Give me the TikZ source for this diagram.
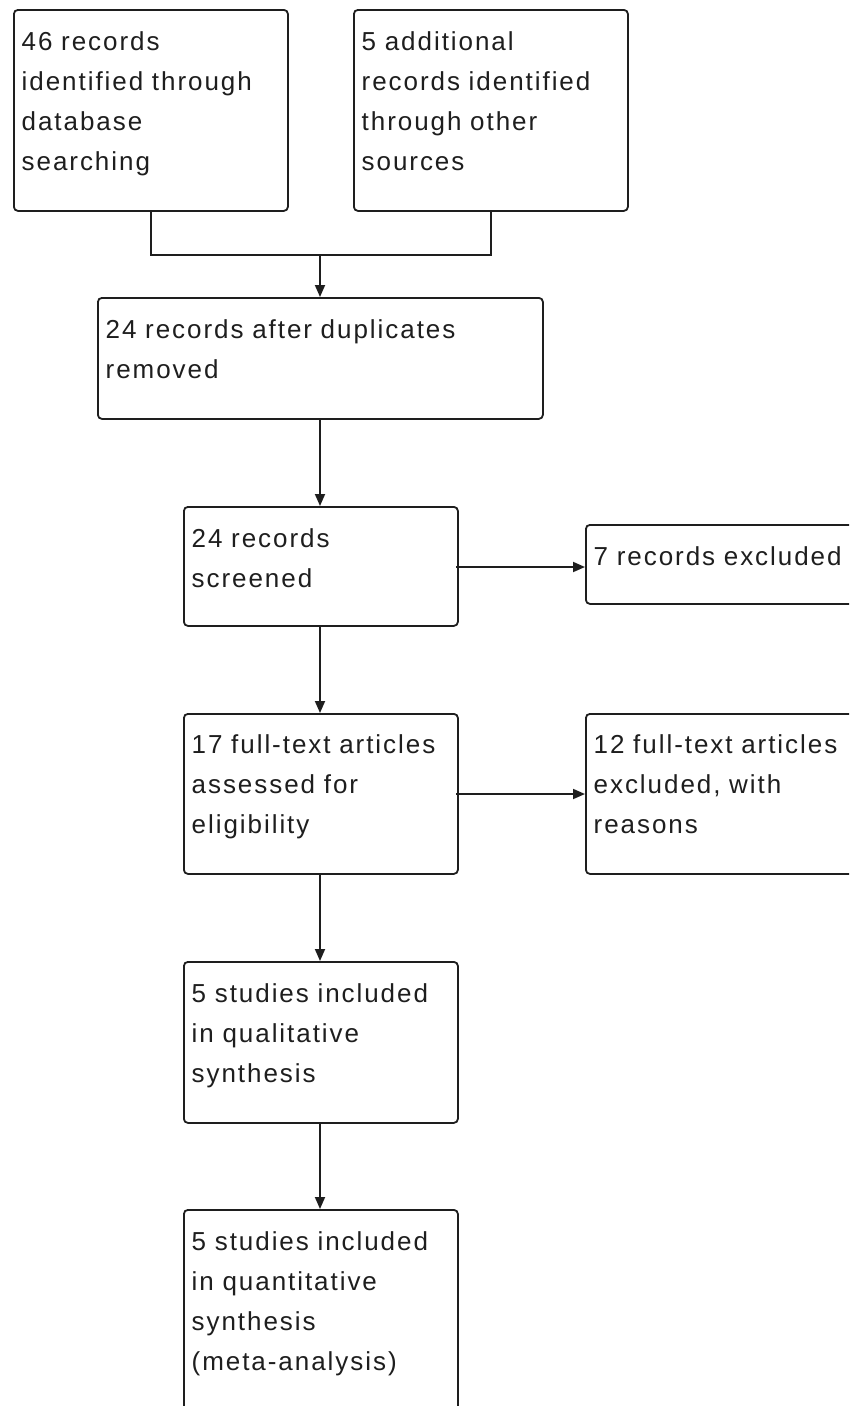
\documentclass[tikz,border=0pt]{standalone}
\usepackage{fontspec}
\setmainfont[LetterSpace=7.5]{Liberation Sans}
\usetikzlibrary{arrows.meta,calc}
\definecolor{ink}{HTML}{1E1E1E}
\tikzset{
  box/.style={draw=ink, line width=1.8pt, rounded corners=4pt, rectangle, inner sep=0pt, anchor=north west, fill=white},
  lbl/.style={anchor=base west, inner sep=0pt, text width=440pt, align=left, text=ink,
              font=\fontsize{26}{40}\selectfont},
  conn/.style={draw=ink, line width=1.8pt},
  arr/.style={conn, -{Triangle[length=12pt,width=10pt]}}
}
\begin{document}
\begin{tikzpicture}[x=1pt,y=-1pt]
\useasboundingbox (0,0) rectangle (849,1406);
\clip (0,0) rectangle (849,1406);
% boxes
\node[box, minimum width=274pt, minimum height=201pt] (a) at (13,9) {};
\node[box, minimum width=274pt, minimum height=201pt] (b) at (353,9) {};
\node[box, minimum width=445pt, minimum height=121pt] (c) at (97,297) {};
\node[box, minimum width=274pt, minimum height=119pt] (d) at (183,506) {};
\node[box, minimum width=320pt, minimum height=79pt]  (e) at (585,524) {};
\node[box, minimum width=274pt, minimum height=160pt] (f) at (183,713) {};
\node[box, minimum width=320pt, minimum height=160pt] (g) at (585,713) {};
\node[box, minimum width=274pt, minimum height=161pt] (h) at (183,961) {};
\node[box, minimum width=274pt, minimum height=260pt] (i) at (183,1209) {};
% texts
\node[lbl] (ta) at (21.5,50) {46 records\\identified through\\database\\searching};
\node[lbl] (tb) at (361.5,50) {5 additional\\records identified\\through other\\sources};
\node[lbl] (tc) at (105.5,338) {24 records after duplicates\\removed};
\node[lbl] (td) at (191.5,547) {24 records\\screened};
\node[lbl] (te) at (593.5,565) {7 records excluded};
\node[lbl] (tf) at (191.5,753) {17 full-text articles\\assessed for\\eligibility};
\node[lbl] (tg) at (593.5,753) {12 full-text articles\\excluded, with\\reasons};
\node[lbl] (th) at (191.5,1002) {5 studies included\\in qualitative\\synthesis};
\node[lbl] (ti) at (191.5,1250) {5 studies included\\in quantitative\\synthesis\\(meta-analysis)};
% connectors
\coordinate (j) at (320,255);
\draw[conn] (a.south) |- (j) -| (b.south);
\draw[arr] (j) -- (j |- c.north);
\draw[arr] (c.south -| j) -- (j |- d.north);
\coordinate (de) at (456,567);
\draw[arr] (de) -- (de -| e.west);
\draw[arr] (d.south -| j) -- (j |- f.north);
\coordinate (fg) at (456,794);
\draw[arr] (fg) -- (fg -| g.west);
\draw[arr] (f.south -| j) -- (j |- h.north);
\draw[arr] (h.south -| j) -- (j |- i.north);
\end{tikzpicture}
\end{document}
